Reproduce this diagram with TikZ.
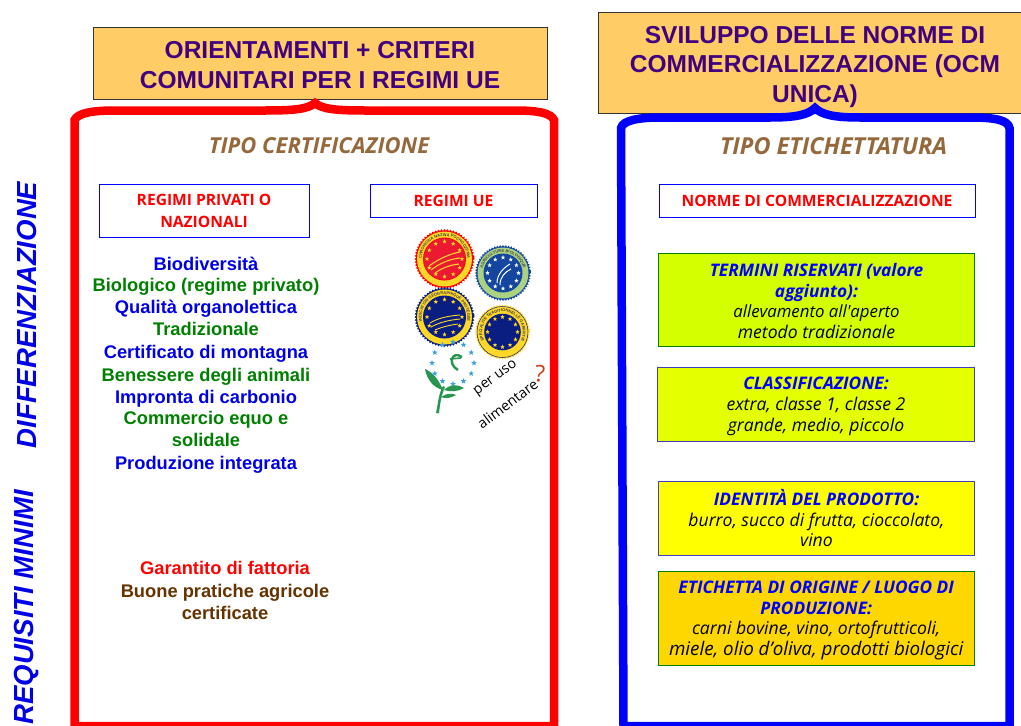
\documentclass[tikz,border=0pt]{standalone}
\usepackage{fontspec}
\setmainfont{Liberation Sans}
\newfontfamily\tah{Open Sans}
\usetikzlibrary{decorations.text,shapes.geometric}
\definecolor{hdr}{RGB}{255,204,102}
\definecolor{hdrtx}{RGB}{64,0,128}
\definecolor{tipo}{RGB}{150,105,60}
\definecolor{lblue}{RGB}{0,0,230}
\definecolor{lgreen}{RGB}{0,128,0}
\definecolor{lbrown}{RGB}{102,51,0}
\definecolor{limea}{RGB}{212,255,0}
\definecolor{limeb}{RGB}{228,255,0}
\definecolor{yel}{RGB}{255,255,0}
\definecolor{gold}{RGB}{255,215,0}
\definecolor{navy}{RGB}{10,30,130}
\definecolor{sealgreen}{RGB}{170,210,130}
\definecolor{sealblue}{RGB}{20,70,160}
\definecolor{sealred}{RGB}{235,25,50}
\definecolor{sealyel}{RGB}{255,215,40}
\definecolor{leaf}{RGB}{40,150,80}
\definecolor{starblue}{RGB}{60,160,220}
\definecolor{qm}{RGB}{200,60,20}
\tikzset{
 hdrbox/.style={draw=black!80,fill=hdr,line width=1pt,inner sep=0pt},
 hdrtext/.style={text=hdrtx,align=center,font=\fontsize{24.5}{29.5}\selectfont\bfseries,inner sep=0pt},
 tipolab/.style={text=tipo,font=\tah\fontsize{22}{24}\selectfont\itshape\bfseries,inner sep=0pt},
 regbox/.style={draw=blue,line width=.7pt,fill=white,text=red,align=center,font=\tah\fontsize{15.6}{22}\selectfont\bfseries,inner sep=0pt},
 item/.style={anchor=base,align=center,font=\fontsize{18.3}{22}\selectfont\bfseries,inner sep=0pt},
 side/.style={rotate=90,text=lblue,font=\fontsize{27.6}{30}\selectfont\itshape\bfseries,inner sep=0pt},
 normg/.style={draw=green!50!black,line width=.8pt,inner sep=0pt},
 normb/.style={draw=blue!50!gray,line width=.8pt,inner sep=0pt},
 normtx/.style={align=center,font=\tah\fontsize{17.6}{20.8}\selectfont\itshape,inner sep=0pt,text=black},
 note/.style={font=\tah\fontsize{14.2}{18}\selectfont,inner sep=0pt,text=black}
}
\newcommand{\normtitle}[1]{{\color{blue}\bfseries\fontsize{17.3}{20.8}\selectfont #1}}
\newcommand{\sealmark}[8]{% x,y,r,edge,ring,centre,starcolor,text
 \begin{scope}[shift={(#1,#2)}]
 \fill[#4] (0:#3) \foreach \a in {6,12,...,354}{ -- (\a-3:#3-1.8) -- (\a:#3)} -- cycle;
 \fill[#5] (0,0) circle (#3-2.5);
 \fill[#4] (0,0) circle (#3-8.5);
 \fill[#6] (0,0) circle (#3-9.2);
 \foreach \a in {0,30,...,330}{\node[star,star points=5,star point ratio=2.4,fill=#7,inner sep=0pt,minimum size=4.6pt] at (\a:#3-12.5) {};}
 \path[decorate,decoration={text along path,text align=center,text={|\fontsize{4}{5}\selectfont\bfseries\color{black!75}|#8}}] (115:#3-7.2) arc[start angle=115,end angle=425,radius=#3-7.2];
 \end{scope}}
\begin{document}
\begin{tikzpicture}[x=1pt,y=-1pt]
\useasboundingbox (0,0) rectangle (1021,726);
\fill[white] (0,0) rectangle (1021,726);
% headers
\node[hdrbox,minimum width=454pt,minimum height=72pt] (h1) at (320,63.5) {};
\node[hdrtext] (h1t) at (320,65) {ORIENTAMENTI + CRITERI\\COMUNITARI PER I REGIMI UE};
\node[hdrbox,minimum width=440pt,minimum height=101pt,anchor=north west] (h2) at (597.5,12) {};
\node[hdrtext] (h2t) at (815,66.5) {SVILUPPO DELLE NORME DI\\COMMERCIALIZZAZIONE (OCM\\UNICA)};
% frames
\draw[red,line width=8.5pt,line join=miter] (74.5,726) -- (74.5,120) .. controls (78,113) and (92,110.5) .. (115,110.5) -- (265,110.5) .. controls (295,110.5) and (308,109) .. (315,103) .. controls (322,109) and (335,110.5) .. (365,110.5) -- (515,110.5) .. controls (538,110.5) and (551,113) .. (554,120) -- (554,726) -- cycle;
\draw[blue,line width=8.5pt,line join=miter] (623.5,726) -- (621,128) .. controls (623,120) and (640,117.5) .. (660,117.5) -- (770,117.5) .. controls (795,117.5) and (808,115) .. (815,108) .. controls (822,115) and (835,117.5) .. (860,117.5) -- (970,117.5) .. controls (995,117.5) and (1008,120) .. (1009.5,128) -- (1009.5,726) -- cycle;
% side labels
\node[side] (s1) at (27,315) {DIFFERENZIAZIONE};
\node[side] (s2) at (27,607.5) {REQUISITI MINIMI};
% titles
\node[tipolab] (t1) at (319,146) {TIPO CERTIFICAZIONE};
\node[tipolab,font=\tah\fontsize{23.4}{24}\selectfont\itshape\bfseries] (t2) at (833.5,146) {TIPO ETICHETTATURA};
% regime boxes
\node[regbox,minimum width=210pt,minimum height=53pt] (r1) at (204,210.5) {REGIMI PRIVATI O\\NAZIONALI};
\node[regbox,minimum width=167pt,minimum height=33pt] (r2) at (453.5,200.5) {REGIMI UE};
\node[regbox,minimum width=316pt,minimum height=33pt] (r3) at (817,200.5) {NORME DI COMMERCIALIZZAZIONE};
% lists
\node[item,text=lblue] (i1) at (206,270) {Biodiversità};
\node[item,text=lgreen] (i2) at (206,291.5) {Biologico (regime privato)};
\node[item,text=lblue] (i3) at (206,313.5) {Qualità organolettica};
\node[item,text=lgreen] (i4) at (206,335.5) {Tradizionale};
\node[item,text=lblue] (i5) at (206,358.5) {Certificato di montagna};
\node[item,text=lgreen] (i6) at (206,381) {Benessere degli animali};
\node[item,text=lblue] (i7) at (206,403) {Impronta di carbonio};
\node[item,text=lgreen] (i8) at (206,424.5) {Commercio equo e};
\node[item,text=lgreen] (i8b) at (206,446.5) {solidale};
\node[item,text=lblue] (i9) at (206,469) {Produzione integrata};
\node[item,text=red] (i10) at (225,574.5) {Garantito di fattoria};
\node[item,text=lbrown] (i11) at (225,597) {Buone pratiche agricole};
\node[item,text=lbrown] (i11b) at (225,619.5) {certificate};
% norm boxes
\node[normg,fill=limea,minimum width=316pt,minimum height=93pt] (n1) at (816.5,300) {};
\node[normtx] (n1t) at (816.5,301) {\normtitle{TERMINI RISERVATI (valore}\\\normtitle{aggiunto):}\\{\fontsize{16.8}{20.8}\selectfont allevamento all'aperto}\\metodo tradizionale};
\node[normb,fill=limeb,minimum width=317pt,minimum height=74pt] (n2) at (816,404) {};
\node[normtx] (n2t) at (816,406.5) {\normtitle{CLASSIFICAZIONE:}\\extra, classe 1, classe 2\\grande, medio, piccolo};
\node[normb,fill=yel,minimum width=316pt,minimum height=74.5pt] (n3) at (816.5,518.2) {};
\node[normtx] (n3t) at (816.5,518.2) {\normtitle{IDENTITÀ DEL PRODOTTO:}\\burro, succo di frutta, cioccolato,\\vino};
\node[normg,fill=gold,minimum width=316.5pt,minimum height=94pt] (n4) at (816.2,618) {};
\node[normtx] (n4t) at (816.2,620.5) {\normtitle{ETICHETTA DI ORIGINE / LUOGO DI}\\\normtitle{PRODUZIONE:}\\carni bovine, vino, ortofrutticoli,\\{\fontsize{18.8}{20.8}\selectfont miele, olio d’oliva, prodotti biologici}};
% seals
\sealmark{444.5}{259}{30}{red}{sealyel}{sealred}{sealyel}{CHRONIONA NAZWA POCHODZENIA}
\draw[sealyel,line width=1.1pt] (429,266) .. controls (440,258) and (450,254) .. (460,252);
\draw[sealyel,line width=1.1pt] (431,270) .. controls (440,263) and (450,259) .. (460,258);
\draw[sealyel,line width=1.1pt] (435,273) .. controls (442,268) and (450,265) .. (459,264);
\sealmark{503}{273}{28}{sealblue}{sealgreen}{sealblue}{white}{AGRICULTURE BIOLOGIQUE}
\draw[white,line width=1pt] (497,283) .. controls (497,275) and (503,268) .. (510,264);
\draw[white,line width=1pt] (500,285) .. controls (500,277) and (505,272) .. (511,269);
\sealmark{444.5}{317}{30}{navy}{sealyel}{navy}{sealyel}{INDICATION GÉOGRAPHIQUE PROTÉGÉE}
\draw[sealyel,line width=.9pt] (430,323) .. controls (438,318) and (448,316) .. (460,315);
\draw[sealyel,line width=.9pt] (431,327) .. controls (440,322) and (450,320) .. (460,319);
\draw[sealyel,line width=.9pt] (435,330) .. controls (442,327) and (450,325) .. (458,324);
\sealmark{502.5}{332}{27.5}{sealyel}{sealyel}{navy}{sealyel}{SPÉCIALITÉ TRADITIONNELLE GARANTIE}
\draw[navy,line width=.5pt] (502.5,332) circle (25.5);
% organic logo
\foreach \a in {0,30,...,330}{\node[star,star points=5,star point ratio=2.4,fill=starblue,inner sep=0pt,minimum size=6pt] at ([shift={(453,363)}]\a:21) {};}
\draw[leaf,line width=2.4pt] (462,357) .. controls (452,350) and (447,364) .. (458,370);
\draw[leaf,line width=1.6pt] (450,359) -- (461,358);
\fill[leaf] (436,413) .. controls (438,405) and (438,395) .. (443,386) -- (445,387) .. controls (441,396) and (440,405) .. (439,413) -- cycle;
\fill[leaf] (443,390) .. controls (438,378) and (432,372) .. (425,369) .. controls (427,380) and (434,388) .. (443,390) -- cycle;
\fill[leaf] (444,390) .. controls (450,384) and (458,384) .. (464,388) .. controls (457,392) and (450,392) .. (444,390) -- cycle;
\fill[leaf] (441,397) .. controls (447,393) and (452,393) .. (456,395) .. controls (451,398) and (446,399) .. (441,397) -- cycle;
% labels
\node[note,rotate=36] (p1) at (496,378.5) {per uso};
\node[note,rotate=37] (p2) at (507.5,403.5) {alimentare};
\node[text=qm,inner sep=0pt,rotate=-5,font=\tah\fontsize{23}{24}\selectfont] (p3) at (540,374) {?};
\end{tikzpicture}
\end{document}
